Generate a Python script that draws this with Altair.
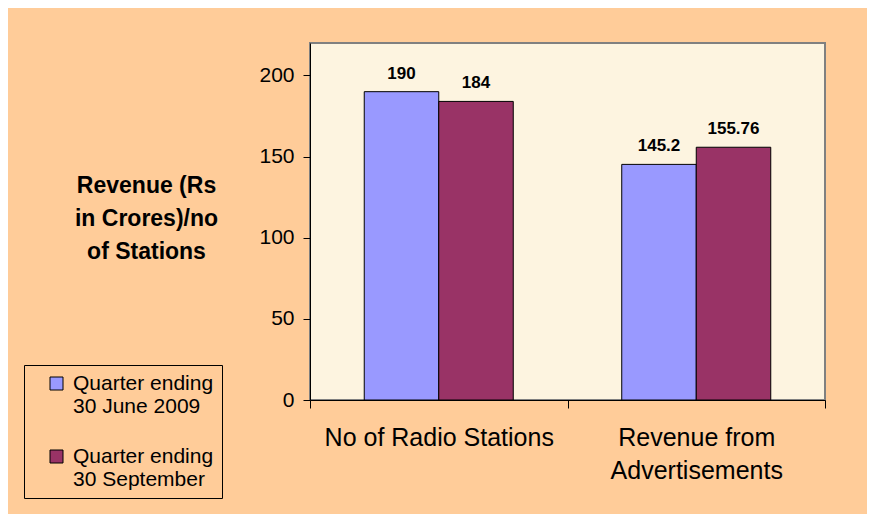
import altair as alt
import pandas as pd

categories = ["No of Radio Stations", "Revenue from|Advertisements"]
series = ["Quarter ending|30 June 2009", "Quarter ending|30 September"]
june_values = [190, 145.2]
sept_values = [184, 155.76]
june_text = ["190", "145.2"]
sept_text = ["184", "155.76"]
colors = ["#9999FF", "#993366"]

rows = []
for c, v, t in zip(categories, june_values, june_text):
    rows.append({"category": c, "series": series[0], "value": v, "label": t})
for c, v, t in zip(categories, sept_values, sept_text):
    rows.append({"category": c, "series": series[1], "value": v, "label": t})
df = pd.DataFrame(rows)

FONT = "Liberation Sans"

x_enc = alt.X(
    "category:N",
    sort=categories,
    scale=alt.Scale(paddingInner=0, paddingOuter=0),
    axis=alt.Axis(
        title=None,
        labelAngle=0,
        labelExpr="split(datum.label, '|')",
        labelFont=FONT,
        labelFontSize=25,
        labelLineHeight=33,
        labelLimit=400,
        labelColor="black",
        labelPadding=17,
        tickBand="extent",
        tickSize=8,
        tickColor="black",
        domainColor="black",
        domainWidth=1,
    ),
)
xoff_enc = alt.XOffset(
    "series:N", sort=series, scale=alt.Scale(paddingInner=0, paddingOuter=0.728)
)
y_enc = alt.Y(
    "value:Q",
    scale=alt.Scale(domain=[0, 220], nice=False),
    axis=alt.Axis(
        values=[0, 50, 100, 150, 200],
        grid=False,
        title=["Revenue (Rs", "in Crores)/no", "of Stations"],
        titleAngle=0,
        titleX=-164,
        titleY=149,
        titleAlign="center",
        titleBaseline="alphabetic",
        titleFont=FONT,
        titleFontSize=23,
        titleFontWeight="bold",
        titleLineHeight=33,
        titleColor="black",
        labelFont=FONT,
        labelFontSize=21,
        labelColor="black",
        labelPadding=9,
        tickSize=7,
        tickColor="black",
        domainColor="black",
    ),
)

bars = alt.Chart(df).mark_bar(stroke="black", strokeWidth=1).encode(
    x=x_enc,
    xOffset=xoff_enc,
    y=y_enc,
    color=alt.Color(
        "series:N",
        sort=series,
        scale=alt.Scale(domain=series, range=colors),
        legend=alt.Legend(
            title=None,
            orient="none",
            legendX=-286,
            legendY=322,
            labelExpr="split(datum.label, '|')",
            labelFont=FONT,
            labelFontSize=21,
            labelLimit=300,
            labelColor="black",
            labelOffset=6,
            symbolType="square",
            symbolSize=169,
            symbolStrokeColor="black",
            symbolStrokeWidth=1,
            symbolOpacity=1,
            symbolOffset=14,
            strokeColor="black",
            fillColor="#FFCC99",
            padding=8,
            rowPadding=28,
        ),
    ),
)

texts = alt.Chart(df).mark_text(
    baseline="alphabetic", dy=-13, font=FONT, fontSize=17, fontWeight="bold", color="black"
).encode(
    x=alt.X("category:N", sort=categories),
    xOffset=alt.XOffset("series:N", sort=series),
    y=alt.Y("value:Q"),
    text="label:N",
)

chart = (
    alt.layer(bars, texts)
    .properties(
        width=515,
        height=357,
        background="#FFCC99",
        padding={"left": 302, "top": 35, "right": 42, "bottom": 114},
        autosize=alt.AutoSizeParams(type="none"),
    )
    .configure_view(fill="#FDF4E0", stroke="#808080", strokeWidth=2)
)

chart.save("out.html", embed_options={"renderer": "svg", "actions": False})
